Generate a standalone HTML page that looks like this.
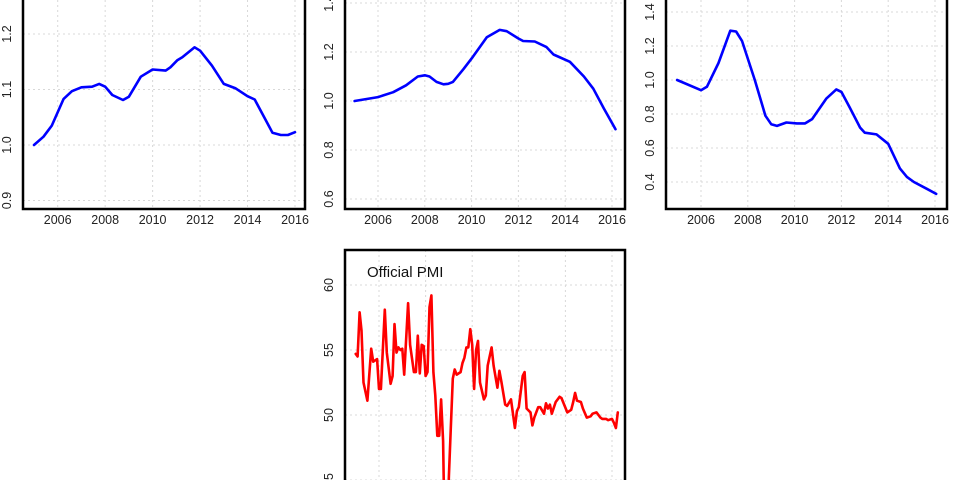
<!DOCTYPE html>
<html><head><meta charset="utf-8"><style>
html,body{margin:0;padding:0;background:#fff;width:960px;height:480px;overflow:hidden;}
svg{display:block;font-family:"Liberation Sans",sans-serif;overflow:hidden;}
</style></head><body>
<svg id="c" width="960" height="480" viewBox="0 0 960 480"></svg>
<script>
// Panel 1 data (year, index)
const p1Years=[2005.0,2005.4,2005.75,2006.25,2006.6,2007.0,2007.45,2007.75,2008.0,2008.3,2008.75,2009.0,2009.5,2010.0,2010.55,2010.75,2011.05,2011.25,2011.77,2012.0,2012.5,2013.0,2013.5,2014.0,2014.3,2014.7,2015.05,2015.4,2015.7,2016.0];
const p1Values=[1.0,1.015,1.035,1.083,1.097,1.104,1.105,1.11,1.105,1.09,1.081,1.087,1.123,1.136,1.134,1.14,1.153,1.158,1.176,1.17,1.143,1.11,1.102,1.088,1.082,1.05,1.022,1.018,1.018,1.023];
const p1Ticks=[0.9,1.0,1.1,1.2];
// Panel 2 data
const p2Years=[2005.0,2006.0,2006.65,2007.2,2007.7,2008.0,2008.2,2008.5,2008.8,2009.0,2009.2,2009.65,2010.05,2010.65,2011.2,2011.5,2012.0,2012.2,2012.7,2013.2,2013.5,2014.2,2014.8,2015.2,2015.65,2016.15];
const p2Values=[1.0,1.016,1.036,1.064,1.1,1.105,1.1,1.078,1.068,1.07,1.078,1.13,1.18,1.26,1.29,1.285,1.255,1.245,1.243,1.22,1.19,1.16,1.1,1.05,0.97,0.885];
const p2Ticks=[0.6,0.8,1.0,1.2,1.4];
// Panel 3 data
const p3Years=[2004.98,2006.0,2006.25,2006.75,2007.25,2007.5,2007.75,2008.3,2008.75,2009.0,2009.25,2009.65,2010.1,2010.45,2010.75,2011.35,2011.78,2012.0,2012.35,2012.8,2013.0,2013.5,2014.0,2014.5,2014.8,2015.1,2015.65,2016.05];
const p3Values=[1.0,0.94,0.96,1.1,1.29,1.285,1.23,1.0,0.79,0.74,0.73,0.75,0.745,0.745,0.77,0.89,0.945,0.93,0.84,0.72,0.69,0.68,0.625,0.48,0.43,0.4,0.36,0.33];
const p3Ticks=[0.4,0.6,0.8,1.0,1.2,1.4];
// PMI data (months since Jan 2005, value)
const pmiMonths=[0,1,2,3,4,6,8,9,11,12,13,15,16,18,19,20,21,22,23,24,25,27,28,30,31,32,33,34,35,36,37,38,39,40,41,42,43,44,45,46,47,48,49,50,51,52,53,54,55,56,57,58,59,60,61,62,63,64,66,67,68,70,71,73,74,75,77,78,80,82,83,84,86,87,88,90,91,92,94,95,97,98,99,100,101,103,105,106,109,111,112,113,114,116,117,119,121,122,124,126,127,128,129,130,132,133,134,135];
const pmiValues=[54.7,54.5,57.9,56.5,52.5,51.1,55.1,54.1,54.3,52,52,58.1,54.8,52.4,53,57,54.8,55.2,55,55.1,53.1,58.6,55.4,53.3,53.3,56.1,53.2,55.4,55.3,53,53.3,58.3,59.2,53.3,51.5,48.4,48.4,51.2,48,38.8,41.2,45.3,49,52.8,53.5,53.1,53.2,53.3,54,54.4,55.2,55.2,56.6,55.4,52,55,55.7,52.5,51.2,51.5,53.8,55.2,53.8,52.1,53.4,52.6,50.8,50.7,51.2,49,50.3,50.6,53,53.3,50.5,50.2,49.2,49.8,50.6,50.6,50.1,50.9,50.5,50.8,50.1,51,51.4,51.3,50.2,50.4,51,51.7,51.1,51,50.5,49.8,49.9,50.1,50.2,49.8,49.7,49.7,49.7,49.6,49.7,49.4,49,50.2];
const pmiTicks=[45,50,55,60];
const yearTicks=[2006,2008,2010,2012,2014,2016];

const svg=document.getElementById('c');
const NS='http://www.w3.org/2000/svg';
function mk(tag,attrs,parent){const e=document.createElementNS(NS,tag);for(const k in attrs)e.setAttribute(k,attrs[k]);(parent||svg).appendChild(e);return e;}

function panel(cfg){
  const g=mk('g',{});
  
  
  const xs=y=>cfg.x0+(y-2006)*(cfg.x1-cfg.x0)/10;
  const ys=v=>cfg.ya+(v-cfg.va)*(cfg.yb-cfg.ya)/(cfg.vb-cfg.va);
  yearTicks.forEach(t=>{const l=mk('line',{x1:xs(t),x2:xs(t),y1:cfg.top,y2:cfg.bottom,stroke:'#d8d8d8','stroke-dasharray':'2,3','stroke-width':1},g);
    });
  cfg.ticks.forEach(t=>{const l=mk('line',{x1:cfg.left,x2:cfg.right,y1:ys(t),y2:ys(t),stroke:'#d8d8d8','stroke-dasharray':'2,3','stroke-width':1},g);
    });
  const d=cfg.xv.map((x,i)=>(i?'L':'M')+xs(x).toFixed(1)+','+ys(cfg.yv[i]).toFixed(1)).join(' ');
  const p=mk('path',{d:d,fill:'none',stroke:cfg.color,'stroke-width':2.6,'stroke-linejoin':'round','stroke-linecap':'round'},g);
  
  
  const r=mk('rect',{x:cfg.left,y:cfg.top,width:cfg.right-cfg.left,height:cfg.bottom-cfg.top,fill:'none',stroke:'#000','stroke-width':2.5},g);
  
  
  if(cfg.xlabels){yearTicks.forEach(t=>{const tx=mk('text',{x:xs(t),y:cfg.bottom+15,'text-anchor':'middle','font-size':12.5,fill:'#222'},g);tx.textContent=t;
    });}
  cfg.ticks.forEach(t=>{const yy=ys(t);const lx=cfg.left-12;const tx=mk('text',{x:lx,y:yy,'text-anchor':'middle','font-size':12.5,fill:'#222',transform:'rotate(-90 '+lx+' '+yy+')'},g);
    tx.textContent=t.toFixed(cfg.dec);});
  if(cfg.title){const tt=mk('text',{x:cfg.left+22,y:cfg.top+27,'font-size':15,fill:'#111'},g);tt.textContent=cfg.title;
    }
}
panel({name:'panel-1',left:23,right:305,top:-10,bottom:209,x0:57.7,x1:295,ya:145,yb:34,va:1.0,vb:1.2,ticks:p1Ticks,dec:1,xv:p1Years,yv:p1Values,color:'#0000ff',xlabels:true});
panel({name:'panel-2',left:345,right:625,top:-10,bottom:209,x0:378,x1:612,ya:101,yb:52,va:1.0,vb:1.2,ticks:p2Ticks,dec:1,xv:p2Years,yv:p2Values,color:'#0000ff',xlabels:true});
panel({name:'panel-3',left:666,right:947,top:-10,bottom:209,x0:701,x1:935,ya:80,yb:46,va:1.0,vb:1.2,ticks:p3Ticks,dec:1,xv:p3Years,yv:p3Values,color:'#0000ff',xlabels:true});
const pmiYears=pmiMonths.map(m=>2005+m/12);
panel({name:'pmi-panel',left:345,right:625,top:250,bottom:484,x0:379,x1:612,ya:415,yb:285,va:50,vb:60,ticks:pmiTicks,dec:0,xv:pmiYears,yv:pmiValues,color:'#ff0000',xlabels:false,title:'Official PMI'});
</script>
</body></html>
